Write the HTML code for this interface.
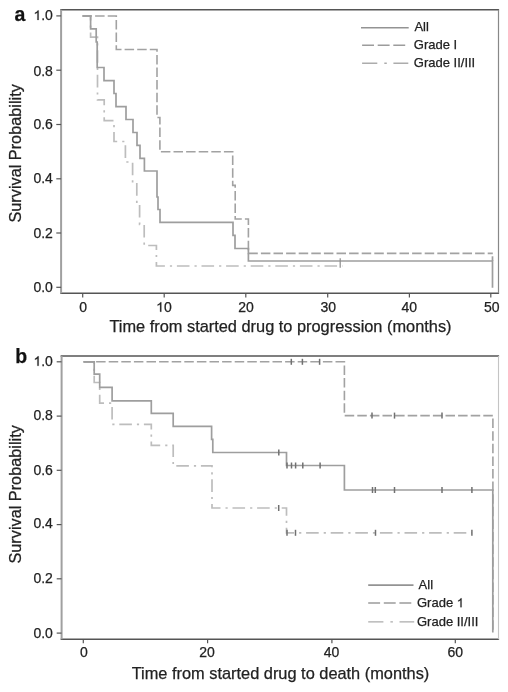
<!DOCTYPE html>
<html><head><meta charset="utf-8"><title>Kaplan-Meier survival curves</title>
<style>
html,body{margin:0;padding:0;background:#fff;width:508px;height:692px;overflow:hidden}
svg{display:block;will-change:transform;filter:blur(0.3px)}
text{font-family:"Liberation Sans",sans-serif;fill:#222;stroke:#222;stroke-width:0.25px}
.fh{stroke:#555;stroke-width:1.5}
.fvl{stroke:#a0a0a0;stroke-width:2}
.fvr{stroke:#888;stroke-width:1.2}
.fvr2{stroke:#c4c4c4;stroke-width:1.1}
.tk{stroke:#555;stroke-width:1.2}
.all{fill:none;stroke:#9e9e9e;stroke-width:1.7}
.la{stroke:#939393;stroke-width:1.6}
.g1{fill:none;stroke:#a2a2a2;stroke-width:1.6;stroke-dasharray:9.5 3.1}
.g2{fill:none;stroke:#bdbdbd;stroke-width:1.7;stroke-dasharray:12.6 5 2.2 4.8}
.lg1{stroke:#9c9c9c;stroke-width:1.5;stroke-dasharray:11.9 3.7}
.lg2{stroke:#acacac;stroke-width:1.4;stroke-dasharray:15.2 7 2.5 6.6}
.cs{stroke:#707070;stroke-width:1.5}
.tl{font-size:14px}
.ti{font-size:16.3px}
.lg{font-size:13px}
.h{fill-opacity:0;stroke-opacity:0}
.one{fill:#222;stroke:#222;stroke-width:0.018}
.pl{font-size:19.5px;font-weight:bold;fill:#111}
</style></head><body>
<svg width="508" height="692" viewBox="0 0 508 692">
<!-- ===== Panel a ===== -->
<text class="pl" x="14.5" y="21.1">a</text>
<line class="fh" x1="60.3" x2="499.1" y1="9.8" y2="9.8"/><line class="fh" x1="60.3" x2="499.1" y1="293.2" y2="293.2"/><line class="fvl" x1="61.1" x2="61.1" y1="9.8" y2="293.2"/><line class="fvr" x1="498.5" x2="498.5" y1="9.8" y2="293.2"/>
<!-- y ticks -->
<g class="tk">
<line x1="56.3" x2="61.1" y1="15.9" y2="15.9"/>
<line x1="56.3" x2="61.1" y1="70.2" y2="70.2"/>
<line x1="56.3" x2="61.1" y1="124.5" y2="124.5"/>
<line x1="56.3" x2="61.1" y1="178.8" y2="178.8"/>
<line x1="56.3" x2="61.1" y1="233.0" y2="233.0"/>
<line x1="56.3" x2="61.1" y1="287.3" y2="287.3"/>
<line y1="293.2" y2="297.5" x1="82.7" x2="82.7"/>
<line y1="293.2" y2="297.5" x1="164.2" x2="164.2"/>
<line y1="293.2" y2="297.5" x1="245.8" x2="245.8"/>
<line y1="293.2" y2="297.5" x1="327.7" x2="327.7"/>
<line y1="293.2" y2="297.5" x1="409.4" x2="409.4"/>
<line y1="293.2" y2="297.5" x1="490.8" x2="490.8"/>
</g>
<g class="tl" text-anchor="end">
<text x="52.9" y="19.9"><tspan class="h">1</tspan>.0</text>
<text x="52.9" y="75.5">0.8</text>
<text x="52.9" y="128.85">0.6</text>
<text x="52.9" y="183">0.4</text>
<text x="52.9" y="237.7">0.2</text>
<text x="52.9" y="292.3">0.0</text>
</g>
<g class="tl" text-anchor="middle">
<text x="83.2" y="311.7">0</text>
<text x="163.9" y="311.7"><tspan class="h">1</tspan>0</text>
<text x="246" y="311.7">20</text>
<text x="328.2" y="311.7">30</text>
<text x="409.2" y="311.7">40</text>
<text x="491.8" y="311.7">50</text>
</g>
<text class="ti" x="109.4" y="331.7" style="font-size:16.38px">Time from started drug to progression (months)</text>
<text class="ti" style="font-size:16.3px" transform="translate(21,222.6) rotate(-90)">Survival Probability</text>
<!-- legend a -->
<line class="la" x1="361" x2="408.7" y1="27.7" y2="27.7"/>
<line class="g1 lg1" x1="362.1" x2="405.8" y1="45.2" y2="45.2"/>
<line class="g2 lg2" x1="362.1" x2="408.3" y1="63.2" y2="63.2"/>
<text class="lg" x="414.4" y="30.6">All</text>
<text class="lg" x="413.8" y="48.6">Grade I</text>
<text class="lg" x="413.8" y="67">Grade II/III</text>
<!-- curves a -->
<path class="g2" d="M82.5 16H90.6V37.2H97.5V99.8H104.2V120.6H114V141.5H125.4V162H132.6V183H136.8V204H139.6V224.5H144.2V245.5H156.4V266H342.5"/>
<path class="g1" d="M82.5 16H116.3V49.5H157V117.5H159.9V151.8H232.7V185.4H235.2V219H248.4V253.4H492.8"/>
<path class="all" d="M82.5 16H90.6V28.8H96.2V42H97.2V67.5H104V80.6H114V93.5H116V106.6H126V119.5H133V132.5H137V145.3H140V158.3H144.4V171H157V197H158V209.5H160V222.3H233V235.4H235V248.5H248.4V261H492.5V287.7"/>
<line class="all" x1="492.5" x2="492.5" y1="256.3" y2="261"/>
<line class="cs" style="stroke:#8c8c8c;stroke-width:1.2" x1="340.2" x2="340.2" y1="258.3" y2="267.7"/>

<!-- ===== Panel b ===== -->
<text class="pl" x="15.3" y="362.6">b</text>
<line class="fh" x1="60.6" x2="499.1" y1="355.9" y2="355.9"/><line class="fh" x1="60.6" x2="499.1" y1="639.2" y2="639.2"/><line class="fvl" x1="61.6" x2="61.6" y1="355.9" y2="639.2"/><line class="fvr2" x1="498.5" x2="498.5" y1="355.9" y2="639.2"/>
<g class="tk">
<line x1="56.7" x2="61.5" y1="361.8" y2="361.8"/>
<line x1="56.7" x2="61.5" y1="416.1" y2="416.1"/>
<line x1="56.7" x2="61.5" y1="470.3" y2="470.3"/>
<line x1="56.7" x2="61.5" y1="524.6" y2="524.6"/>
<line x1="56.7" x2="61.5" y1="578.8" y2="578.8"/>
<line x1="56.7" x2="61.5" y1="633.1" y2="633.1"/>
<line y1="639" y2="643.2" x1="83.3" x2="83.3"/>
<line y1="639" y2="643.2" x1="207.6" x2="207.6"/>
<line y1="639" y2="643.2" x1="331.9" x2="331.9"/>
<line y1="639" y2="643.2" x1="455.3" x2="455.3"/>
</g>
<g class="tl" text-anchor="end">
<text x="52.9" y="365.8"><tspan class="h">1</tspan>.0</text>
<text x="52.9" y="420.45">0.8</text>
<text x="52.9" y="474.75">0.6</text>
<text x="52.9" y="528.3">0.4</text>
<text x="52.9" y="582.8">0.2</text>
<text x="52.9" y="637.8">0.0</text>
</g>
<g class="tl" text-anchor="middle">
<text x="83.8" y="656.9">0</text>
<text x="207.1" y="656.9">20</text>
<text x="331.5" y="656.9">40</text>
<text x="455.3" y="656.9">60</text>
</g>
<text class="ti" x="131.7" y="678.8" style="font-size:16.38px">Time from started drug to death (months)</text>
<text class="ti" style="font-size:16.3px" transform="translate(21,563.6) rotate(-90)">Survival Probability</text>
<!-- legend b -->
<line class="la" x1="368.2" x2="413.5" y1="585.1" y2="585.1"/>
<line class="g1 lg1" x1="368.2" x2="411.6" y1="603" y2="603"/>
<line class="g2 lg2" x1="368.2" x2="414.2" y1="621.9" y2="621.9"/>
<text class="lg" x="418.6" y="588.7">All</text>
<text class="lg" x="417" y="607.2">Grade <tspan class="h">1</tspan></text>
<text class="lg" x="417" y="625.5">Grade II/III</text>
<!-- curves b -->
<path class="g2" d="M83.5 361.8H94.2V382.5H99.7V403.1H112.1V424.4H151.3V445.3H173.2V465.8H212V508H286.5V532.8H472"/>
<path class="g1" d="M83.5 361.8H344.4V415.6H492.9V632.6"/>
<path class="all" d="M83.5 361.8H94.2V374.2H99.7V387.4H112.1V400.8H151.3V413.4H173.2V426.3H211.6V439.4H212.8V452.5H286.5V465.5H344.4V490H492.8V632.6"/>
<g class="cs">
<line x1="278.8" x2="278.8" y1="449.5" y2="455.5"/>
<line x1="287" x2="287" y1="462.5" y2="468.5"/>
<line x1="291.5" x2="291.5" y1="462.5" y2="468.5"/>
<line x1="295.6" x2="295.6" y1="462.5" y2="468.5"/>
<line x1="302.8" x2="302.8" y1="462.5" y2="468.5"/>
<line x1="320.1" x2="320.1" y1="462.5" y2="468.5"/>
<line x1="372.5" x2="372.5" y1="487.0" y2="493.0"/>
<line x1="375.3" x2="375.3" y1="487.0" y2="493.0"/>
<line x1="394.5" x2="394.5" y1="487.0" y2="493.0"/>
<line x1="442" x2="442" y1="487.0" y2="493.0"/>
<line x1="471.9" x2="471.9" y1="487.0" y2="493.0"/>
<line x1="291.3" x2="291.3" y1="358.8" y2="364.8"/>
<line x1="302.4" x2="302.4" y1="358.8" y2="364.8"/>
<line x1="319.6" x2="319.6" y1="358.8" y2="364.8"/>
<line x1="372" x2="372" y1="412.6" y2="418.6"/>
<line x1="394.5" x2="394.5" y1="412.6" y2="418.6"/>
<line x1="442" x2="442" y1="412.6" y2="418.6"/>
<line x1="278.7" x2="278.7" y1="505.0" y2="511.0"/>
<line x1="287" x2="287" y1="529.8" y2="535.8"/>
<line x1="295.5" x2="295.5" y1="529.8" y2="535.8"/>
<line x1="375.5" x2="375.5" y1="529.8" y2="535.8"/>
<line x1="471.9" x2="471.9" y1="529.8" y2="535.8"/>
</g>
<!-- Arial-style digit one -->
<path class="one" transform="translate(33.431,19.9) scale(14,-13.2)" d="M.3726 0H.2847V.5601Q.2529 .5298 .2012 .4995T.1089 .4541V.5391Q.1816 .5732 .2363 .6221T.3140 .7158H.3726Z"/>
<path class="one" transform="translate(156.103,311.7) scale(14,-13.2)" d="M.3726 0H.2847V.5601Q.2529 .5298 .2012 .4995T.1089 .4541V.5391Q.1816 .5732 .2363 .6221T.3140 .7158H.3726Z"/>
<path class="one" transform="translate(33.431,365.8) scale(14,-13.2)" d="M.3726 0H.2847V.5601Q.2529 .5298 .2012 .4995T.1089 .4541V.5391Q.1816 .5732 .2363 .6221T.3140 .7158H.3726Z"/>
<path class="one" transform="translate(456.734,607.2) scale(13,-12.4)" d="M.3726 0H.2847V.5601Q.2529 .5298 .2012 .4995T.1089 .4541V.5391Q.1816 .5732 .2363 .6221T.3140 .7158H.3726Z"/>
</svg>
</body></html>
